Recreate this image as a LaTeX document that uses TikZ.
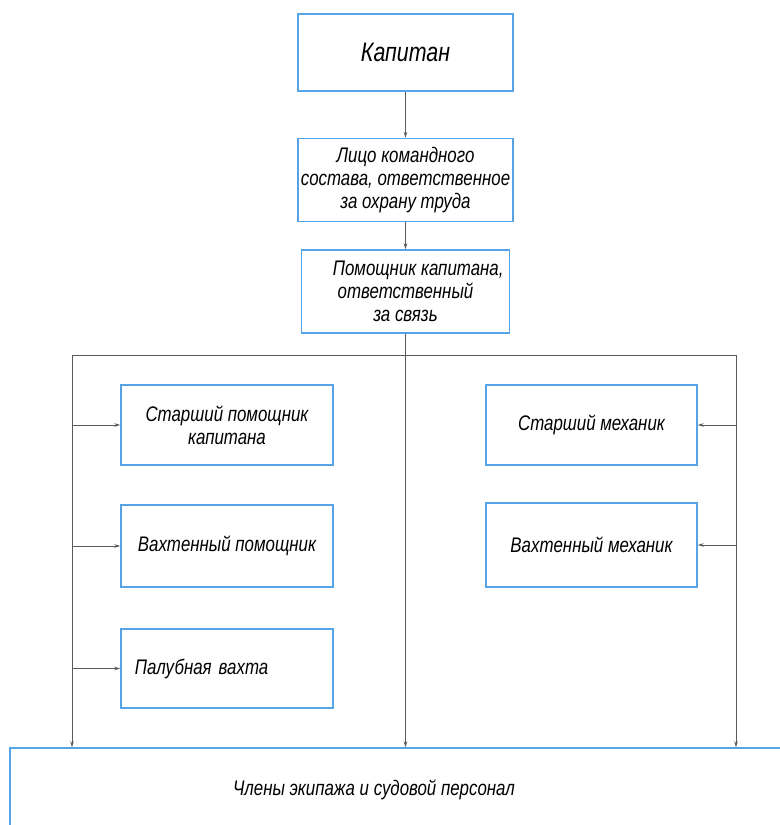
\documentclass[tikz,border=0pt]{standalone}
\usepackage{fontspec}
\setmainfont{Liberation Sans}[FakeStretch=0.8]
\usepackage{tikz}
\usetikzlibrary{arrows.meta,positioning}
\definecolor{boxblue}{RGB}{86,164,232}
\definecolor{linegray}{RGB}{90,90,90}

\begin{document}
\begin{tikzpicture}[
      x=0.025cm,y=-0.025cm,
      box/.style={draw=boxblue,line width=1pt,minimum width=5.3cm,minimum height=2cm,align=center,
        inner xsep=2pt,font=\fontsize{15}{16.5}\selectfont\itshape},
      link/.style={draw=linegray,line width=0.6pt},
      >={Stealth[length=1.5mm,width=0.9mm]}
    ]
      \useasboundingbox (0,0) rectangle (779,825);

      \node[box,minimum width=5.375cm,minimum height=1.925cm,font=\fontsize{19}{21}\selectfont\itshape] (cap) at (405.5,52.5) {Капитан};
      \node[box,minimum width=5.375cm,minimum height=2.075cm,below=1.15cm of cap] (safety) {Лицо командного\\ состава, ответственное\\ за охрану труда};
      \node[box,minimum width=5.2cm,minimum height=2.075cm,below=0.675cm of safety] (comm) {\hspace*{1.2em}Помощник капитана,\\ ответственный\\ за связь};

      \node[box] (mate) at (227,425) {Старший помощник\\ капитана};
      \node[box,minimum height=2.05cm] (watch) at (227,546) {Вахтенный помощник};
      \node[box,minimum height=1.975cm,align=left,text width=4.6cm,inner xsep=0.35cm] (deck) at (227,668.5) {Палубная вахта\\[0.4cm]};
      \node[box,minimum width=5.275cm] (chief) at (591.5,425) {Старший механик};
      \node[box,minimum width=5.275cm,minimum height=2.1cm] (engwatch) at (591.5,545) {Вахтенный механик};

      \node[box,minimum width=19.75cm,minimum height=2.55cm] (crew) at (405,799) {};
      \node[font=\fontsize{15}{16.5}\selectfont\itshape] (crewtxt) at (374,790) {Члены экипажа и судовой персонал};

      \coordinate (busL) at (72,355);
      \coordinate (busR) at (736,355);

      \draw[link,->] (cap) -- (safety);
      \draw[link,->] (safety) -- (comm);
      \draw[link,->] (comm.south -| cap) -- (crew.north -| cap);
      \draw[link] (busL) -- (busR);
      \draw[link,->] (busL) -- (busL |- crew.north);
      \draw[link,->] (busR) -- (busR |- crew.north);
      \draw[link,->] (busL |- mate.west) -- (mate.west);
      \draw[link,->] (busL |- watch.west) -- (watch.west);
      \draw[link,->] (busL |- deck.west) -- (deck.west);
      \draw[link,->] (busR |- chief.east) -- (chief.east);
      \draw[link,->] (busR |- engwatch.east) -- (engwatch.east);
    \end{tikzpicture}
\end{document}
